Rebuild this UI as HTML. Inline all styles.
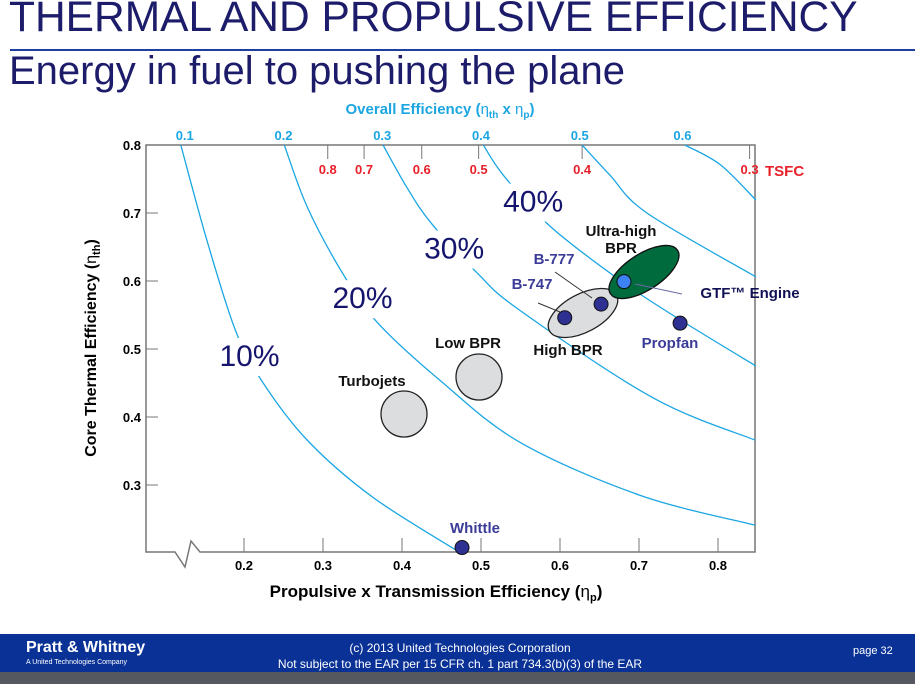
<!DOCTYPE html>
<html><head><meta charset="utf-8"><style>
body{margin:0;width:915px;height:684px;overflow:hidden;background:#fff;font-family:"Liberation Sans",sans-serif;position:relative}
.t{position:absolute;white-space:nowrap}
</style></head><body>
<div class="t" style="left:9px;top:-6px;font-size:42.5px;color:#1c1c6b">THERMAL AND PROPULSIVE EFFICIENCY</div>
<div style="position:absolute;left:10px;top:49px;width:905px;height:2px;background:#1f3fa0"></div>
<div class="t" style="left:9px;top:49px;font-size:40px;color:#1c1c6b">Energy in fuel to pushing the plane</div>
<svg id="chart" width="915" height="684" style="position:absolute;left:0;top:0" font-family="Liberation Sans, sans-serif"></svg>
<div style="position:absolute;left:0;top:634px;width:915px;height:38px;background:#0a3296"></div>
<div style="position:absolute;left:0;top:672px;width:915px;height:12px;background:#55595f"></div>
<div class="t" style="left:26px;top:639px;color:#fff;font-weight:bold;font-size:16px">Pratt &amp; Whitney</div>
<div class="t" style="left:26px;top:659px;color:#fff;font-size:7px">A United Technologies Company</div>
<div class="t" style="left:250px;top:640px;width:420px;text-align:center;color:#fff;font-size:12px;line-height:16px">(c) 2013 United Technologies Corporation<br>Not subject to the EAR per 15 CFR ch. 1 part 734.3(b)(3) of the EAR</div>
<div class="t" style="left:853px;top:645px;color:#fff;font-size:11px">page 32</div>
<script>
const xTicks=[0.2,0.3,0.4,0.5,0.6,0.7,0.8];
const yTicks=[0.3,0.4,0.5,0.6,0.7,0.8];
const effLabels=["0.1","0.2","0.3","0.4","0.5","0.6"];
const effLabelX=[0.125,0.25,0.375,0.5,0.625,0.755];
const tsfcLabels=["0.8","0.7","0.6","0.5","0.4","0.3"];
const tsfcX=[0.306,0.352,0.425,0.497,0.628,0.840];
const curve10=[[0.120,0.800],[0.153,0.660],[0.189,0.528],[0.222,0.454],[0.280,0.366],[0.363,0.282],[0.473,0.201]];
const curve20=[[0.251,0.800],[0.280,0.709],[0.324,0.613],[0.368,0.540],[0.448,0.454],[0.549,0.363],[0.701,0.285],[0.847,0.241]];
const curve30=[[0.376,0.800],[0.406,0.738],[0.437,0.685],[0.495,0.612],[0.549,0.557],[0.718,0.428],[0.847,0.366]];
const curve40=[[0.503,0.800],[0.528,0.756],[0.586,0.682],[0.676,0.601],[0.752,0.543],[0.848,0.475]];
const curve50=[[0.628,0.800],[0.663,0.756],[0.710,0.700],[0.848,0.606]];
const curve60=[[0.758,0.800],[0.803,0.771],[0.848,0.719]];
const pctNames=["10%","20%","30%","40%"];
const pctPos=[[0.207,0.475],[0.350,0.560],[0.466,0.633],[0.566,0.702]];
const engines=["Whittle","Propfan","B-747","B-777","GTF"];
const engX=[0.476,0.752,0.606,0.652,0.681];
const engY=[0.208,0.538,0.546,0.566,0.599];
const X=v=>86+v*790, Y=v=>145+(0.8-v)*680;
const svg=document.getElementById('chart');const NS='http://www.w3.org/2000/svg';
function mk(tag,at,txt){const e=document.createElementNS(NS,tag);for(const k in at)e.setAttribute(k,at[k]);if(txt!==undefined)e.textContent=txt;svg.appendChild(e);return e;}
let e;
e=mk('path',{d:'M146,145 H755 V552 H200 L191,541 L185,567 L175,552 H146 Z',fill:'none',stroke:'#777','stroke-width':1.5});


xTicks.forEach(v=>{e=mk('line',{x1:X(v),x2:X(v),y1:552,y2:538,stroke:'#777'});


e=mk('text',{x:X(v),y:570,'text-anchor':'middle','font-size':13,'font-weight':'bold'},v.toFixed(1));

});
yTicks.forEach(v=>{e=mk('line',{x1:146,x2:158,y1:Y(v),y2:Y(v),stroke:'#777'});


e=mk('text',{x:141,y:Y(v)+5,'text-anchor':'end','font-size':13,'font-weight':'bold'},v.toFixed(1));

});
effLabels.forEach((s,i)=>{e=mk('text',{x:X(effLabelX[i]),y:140,'text-anchor':'middle','font-size':13,'font-weight':'bold',fill:'#1ba6e2'},s);

});
tsfcLabels.forEach((s,i)=>{e=mk('line',{x1:X(tsfcX[i]),x2:X(tsfcX[i]),y1:145,y2:159,stroke:'#777'});


e=mk('text',{x:X(tsfcX[i]),y:174,'text-anchor':'middle','font-size':13,'font-weight':'bold',fill:'#e8202a'},s);

});
e=mk('text',{x:765,y:176,'font-size':15,'font-weight':'bold',fill:'#e8202a'},'TSFC');


function smooth(pts){const p=pts.map(q=>[X(q[0]),Y(q[1])]);let d='M'+p[0][0]+','+p[0][1];
for(let i=0;i<p.length-1;i++){const a=p[i-1]||p[i],b=p[i],c=p[i+1],n=p[i+2]||c;
d+=` C${b[0]+(c[0]-a[0])/6},${b[1]+(c[1]-a[1])/6} ${c[0]-(n[0]-b[0])/6},${c[1]-(n[1]-b[1])/6} ${c[0]},${c[1]}`;}return d;}
[curve10,curve20,curve30,curve40,curve50,curve60].forEach((c,i)=>{e=mk('path',{d:smooth(c),fill:'none',stroke:'#1ba6e2','stroke-width':1.3});

});
pctNames.forEach((s,i)=>{const x=X(pctPos[i][0]),y=Y(pctPos[i][1]);
e=mk('rect',{x:x-38,y:y-28,width:76,height:38,fill:'#fff'});


e=mk('text',{x:x,y:y,'text-anchor':'middle','font-size':30,fill:'#15156e'},s);

});
e=mk('circle',{cx:404,cy:414,r:23,fill:'#dcdddf',stroke:'#222','stroke-width':1.3});


e=mk('circle',{cx:479,cy:377,r:23,fill:'#dcdddf',stroke:'#222','stroke-width':1.3});


e=mk('ellipse',{cx:0,cy:0,rx:38,ry:19,fill:'#dcdddf',stroke:'#222','stroke-width':1.3,transform:'translate(583,313) rotate(-28)'});


e=mk('ellipse',{cx:0,cy:0,rx:40,ry:18,fill:'#006b3c',stroke:'#111','stroke-width':1.3,transform:'translate(644,272) rotate(-33)'});


[[555,272,592,298],[538,303,560,312],[682,294,635,284]].forEach(a=>{e=mk('line',{x1:a[0],y1:a[1],x2:a[2],y2:a[3],stroke:a[0]==682?'#6a6aa8':'#333','stroke-width':1});

});
engines.forEach((n,i)=>{e=mk('circle',{cx:X(engX[i]),cy:Y(engY[i]),r:7,fill:n=='GTF'?'#3d82f2':'#2e3192',stroke:'#111','stroke-width':1});

});
const labels=[["Whittle",475,533,'#3b3b98'],["Propfan",670,348,'#3b3b98'],["B-747",532,289,'#3b3b98'],["B-777",554,264,'#3b3b98'],["GTF™ Engine",750,298,'#111155'],["High BPR",568,355,'#111'],["Low BPR",468,348,'#111'],["Turbojets",372,386,'#111'],["Ultra-high",621,236,'#111'],["BPR",621,253,'#111']];
labels.forEach(l=>{e=mk('text',{x:l[1],y:l[2],'text-anchor':'middle','font-size':15,'font-weight':'bold',fill:l[3]},l[0]);

});
e=mk('text',{x:440,y:114,'text-anchor':'middle','font-size':15,'font-weight':'bold',fill:'#1ba6e2'});
e.innerHTML='Overall Efficiency (<tspan font-weight="normal">η</tspan><tspan font-size="10" dy="4">th</tspan><tspan dy="-4"> x </tspan><tspan font-weight="normal">η</tspan><tspan font-size="10" dy="4">p</tspan><tspan dy="-4">)</tspan>';


e=mk('text',{x:436,y:597,'text-anchor':'middle','font-size':17,'font-weight':'bold'});
e.innerHTML='Propulsive x Transmission Efficiency (<tspan font-weight="normal">η</tspan><tspan font-size="11" dy="4">p</tspan><tspan dy="-4">)</tspan>';


e=mk('text',{x:0,y:0,'text-anchor':'middle','font-size':16,'font-weight':'bold',transform:'translate(96,348) rotate(-90)'});
e.innerHTML='Core Thermal Efficiency (<tspan font-weight="normal">η</tspan><tspan font-size="11" dy="4">th</tspan><tspan dy="-4">)</tspan>';


</script>
</body></html>
